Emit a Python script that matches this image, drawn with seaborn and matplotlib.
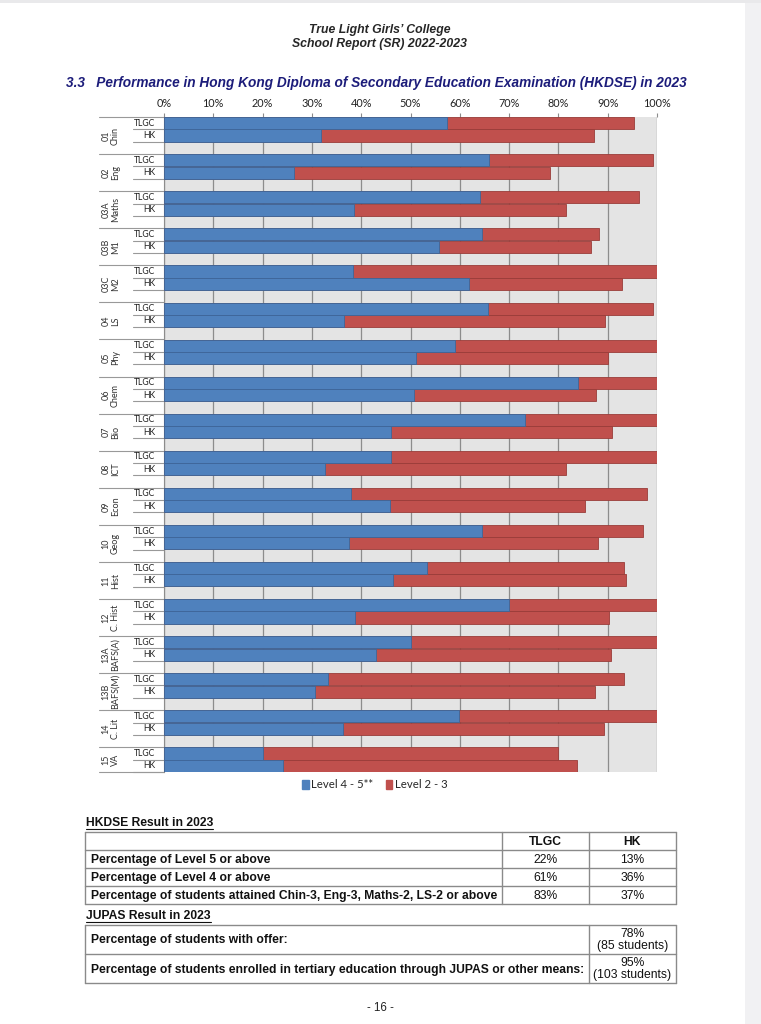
"""
hkdse_chart.py

HKDSE 2023 performance chart - True Light Girls' College School Report
"""

import matplotlib.pyplot as plt
import matplotlib.patches as mpatches
import seaborn as sns
import pandas as pd


# -----------------------------
# Data
# -----------------------------
subjects = ["01\nChin", "02\nEng", "03A\nMaths", "03B\nM1", "03C\nM2", "04\nLS",
            "05\nPhy", "06\nChem", "07\nBio", "08\nICT", "09\nEcon", "10\nGeog",
            "11\nHist", "12\nC. Hist", "13A\nBAFS(A)", "13B\nBAFS(M)", "14\nC. Lit",
            "15\nVA"]
groups = ["TLGC", "HK"]

tlgc_l45 = [57.4, 66.0, 64.1, 64.6, 38.4, 65.7, 59.1, 83.9, 73.2, 46.0, 38.0, 64.6,
            53.3, 70.0, 50.0, 33.3, 59.9, 20.0]
tlgc_l23 = [37.9, 33.1, 32.2, 23.6, 61.6, 33.4, 40.9, 16.1, 26.8, 54.0, 60.0, 32.5,
            40.0, 30.0, 50.0, 60.0, 40.1, 60.0]
hk_l45 = [31.8, 26.3, 38.6, 55.8, 61.8, 36.6, 51.2, 50.8, 46.0, 32.6, 45.8, 37.6,
          46.4, 38.8, 43.1, 30.6, 36.3, 24.1]
hk_l23 = [55.5, 51.9, 42.9, 30.9, 31.1, 52.9, 38.9, 36.9, 44.8, 49.0, 39.5, 50.4,
          47.4, 51.5, 47.5, 56.9, 53.0, 59.7]

x_ticks = [0, 10, 20, 30, 40, 50, 60, 70, 80, 90, 100]
legend_labels = ["Level 4 - 5**", "Level 2 - 3"]

dse_rows = ["Percentage of Level 5 or above",
            "Percentage of Level 4 or above",
            "Percentage of students attained Chin-3, Eng-3, Maths-2, LS-2 or above"]
dse_tlgc = ["22%", "61%", "83%"]
dse_hk = ["13%", "36%", "37%"]

jupas_rows = ["Percentage of students with offer:",
              "Percentage of students enrolled in tertiary education through JUPAS or other means:"]
jupas_vals = ["78%\n(85 students)", "95%\n(103 students)"]

BLUE = "#4f81bd"
RED = "#c0504d"
NAVY = "#1c1c7a"

# long table: one row per bar, slot keys keep a blank slot between subjects
rows = []
order = []
for i, subj in enumerate(subjects):
    for g, l45, l23 in zip(groups, [tlgc_l45[i], hk_l45[i]], [tlgc_l23[i], hk_l23[i]]):
        key = f"{i}_{g}"
        rows.append({"key": key, "level45": l45, "total": l45 + l23})
        order.append(key)
    if i < len(subjects) - 1:
        order.append(f"{i}_gap")
df = pd.DataFrame(rows)

# -----------------------------
# Figure / page
# -----------------------------
sns.set_style("white")
narrow = ["Liberation Sans Narrow", "Liberation Sans", "DejaVu Sans"]
arial = ["Liberation Sans", "DejaVu Sans"]
calibri = ["Lato", "DejaVu Sans"]

W, H = 761, 1024
fig = plt.figure(figsize=(W / 100, H / 100), dpi=100)
fig.patch.set_facecolor("white")

page = fig.add_axes([0, 0, 1, 1])
page.set_xlim(0, W)
page.set_ylim(H, 0)
page.axis("off")
page.add_patch(mpatches.Rectangle((745, 0), 16, H, color="#f1f1f3", lw=0))
page.add_patch(mpatches.Rectangle((0, 0), W, 3, color="#e9e9eb", lw=0))

page.text(380, 30, "True Light Girls’ College", ha="center", va="center",
          fontsize=8.8, fontweight="bold", fontstyle="italic", family=arial)
page.text(380, 44, "School Report (SR) 2022-2023", ha="center", va="center",
          fontsize=8.8, fontweight="bold", fontstyle="italic", family=arial)
page.text(66, 83, "3.3   Performance in Hong Kong Diploma of Secondary Education Examination (HKDSE) in 2023",
          ha="left", va="center", fontsize=9.8, fontweight="bold", fontstyle="italic",
          color=NAVY, family=arial)

# -----------------------------
# Chart
# -----------------------------
left, right, top, bottom = 164, 657, 117, 772
ax = fig.add_axes([left / W, 1 - bottom / H, (right - left) / W, (bottom - top) / H])
ax.set_facecolor("#e4e4e4")

sns.barplot(data=df, x="total", y="key", order=order, color=RED, width=0.98,
            edgecolor="#9a3c39", linewidth=0.6, saturation=1, ax=ax, zorder=3)
sns.barplot(data=df, x="level45", y="key", order=order, color=BLUE, width=0.98,
            edgecolor="#3d6699", linewidth=0.6, saturation=1, ax=ax, zorder=4)

ax.set_xlim(0, 100)
ax.set_ylim(len(order) - 0.5, -0.5)
ax.set_xlabel("")
ax.set_ylabel("")
ax.set_yticks([])
ax.xaxis.tick_top()
ax.set_xticks(x_ticks)
ax.set_xticklabels([f"{t}%" for t in x_ticks], family=calibri, fontsize=7.8, color="#222222")
ax.tick_params(axis="x", length=3, width=0.8, color="#8c8c8c", pad=2.5)
ax.grid(axis="x", color="#8c8c8c", lw=0.9, zorder=1)
ax.grid(axis="y", visible=False)
for side in ["top", "bottom", "right"]:
    ax.spines[side].set_visible(False)
ax.spines["left"].set_color("#8c8c8c")
ax.spines["left"].set_linewidth(0.8)

# multi-level category labels (Excel style)
ytr = ax.get_yaxis_transform()
pos = 0
for i, subj in enumerate(subjects):
    n = 3 if i < len(subjects) - 1 else 2
    ax.plot([-0.131, 0], [pos - 0.5, pos - 0.5], transform=ytr, color="#999999",
            lw=0.8, clip_on=False)
    for j, g in enumerate(groups):
        ax.text(-0.018, pos + j, g, transform=ytr, ha="right", va="center",
                fontsize=6.2, family=calibri, color="#222222")
        ax.plot([-0.063, 0], [pos + j + 0.5, pos + j + 0.5], transform=ytr,
                color="#999999", lw=0.8, clip_on=False)
    ax.text(-0.108, pos + (n - 1) / 2, subj, transform=ytr, rotation=90,
            ha="center", va="center", multialignment="center", fontsize=6.5,
            family=calibri, color="#333333", linespacing=1.1)
    pos += n
ax.plot([-0.131, 0], [pos - 0.5, pos - 0.5], transform=ytr, color="#999999",
        lw=0.8, clip_on=False)

handles = [mpatches.Patch(color=BLUE), mpatches.Patch(color=RED)]
leg = fig.legend(handles, legend_labels, loc="center", bbox_to_anchor=(375 / W, 1 - 785 / H),
                 ncol=2, frameon=False, handlelength=0.55, handleheight=0.9,
                 handletextpad=0.25, columnspacing=1.1, prop={"family": calibri, "size": 8.2})

# -----------------------------
# Tables
# -----------------------------
LC = "#8a8a8a"
tfont = dict(family=narrow, fontsize=8.7, color="#111111")


def heading(x, y, s):
    t = page.text(x, y, s, ha="left", va="center", fontweight="bold", **tfont)
    fig.canvas.draw()
    bb = t.get_window_extent()
    page.plot([x, x + bb.width], [y + 6, y + 6], color="#111111", lw=0.8)


def hline(y, x0, x1):
    page.plot([x0, x1], [y, y], color=LC, lw=1.0)


def vline(x, y0, y1):
    page.plot([x, x], [y0, y1], color=LC, lw=1.0)


heading(86, 823, "HKDSE Result in 2023")
t_left, c1, c2, t_right = 85, 502, 589, 676
row_y = [832, 850, 868, 886, 904]
for y in row_y:
    hline(y, t_left, t_right)
for x in [t_left, c1, c2, t_right]:
    vline(x, row_y[0], row_y[-1])
page.text((c1 + c2) / 2, (row_y[0] + row_y[1]) / 2 + 1, "TLGC", ha="center", va="center",
          fontweight="bold", **tfont)
page.text((c2 + t_right) / 2, (row_y[0] + row_y[1]) / 2 + 1, "HK", ha="center", va="center",
          fontweight="bold", **tfont)
for k, (lab, a, b) in enumerate(zip(dse_rows, dse_tlgc, dse_hk)):
    yc = (row_y[k + 1] + row_y[k + 2]) / 2 + 1
    page.text(91, yc, lab, ha="left", va="center", fontweight="bold", **tfont)
    page.text((c1 + c2) / 2, yc, a, ha="center", va="center", **tfont)
    page.text((c2 + t_right) / 2, yc, b, ha="center", va="center", **tfont)

heading(86, 916, "JUPAS Result in 2023")
j_y = [925, 954, 983]
for y in j_y:
    hline(y, t_left, t_right)
for x in [t_left, c2, t_right]:
    vline(x, j_y[0], j_y[-1])
for k, (lab, v) in enumerate(zip(jupas_rows, jupas_vals)):
    yc = (j_y[k] + j_y[k + 1]) / 2
    page.text(91, yc + 1, lab, ha="left", va="center", fontweight="bold", **tfont)
    page.text((c2 + t_right) / 2, yc + 0.5, v, ha="center", va="center",
              linespacing=1.0, **tfont)

page.text(380, 1008, "- 16 -", ha="center", va="center", family=arial, fontsize=8.3,
          color="#222222")

fig.savefig("out.png", dpi=100)
